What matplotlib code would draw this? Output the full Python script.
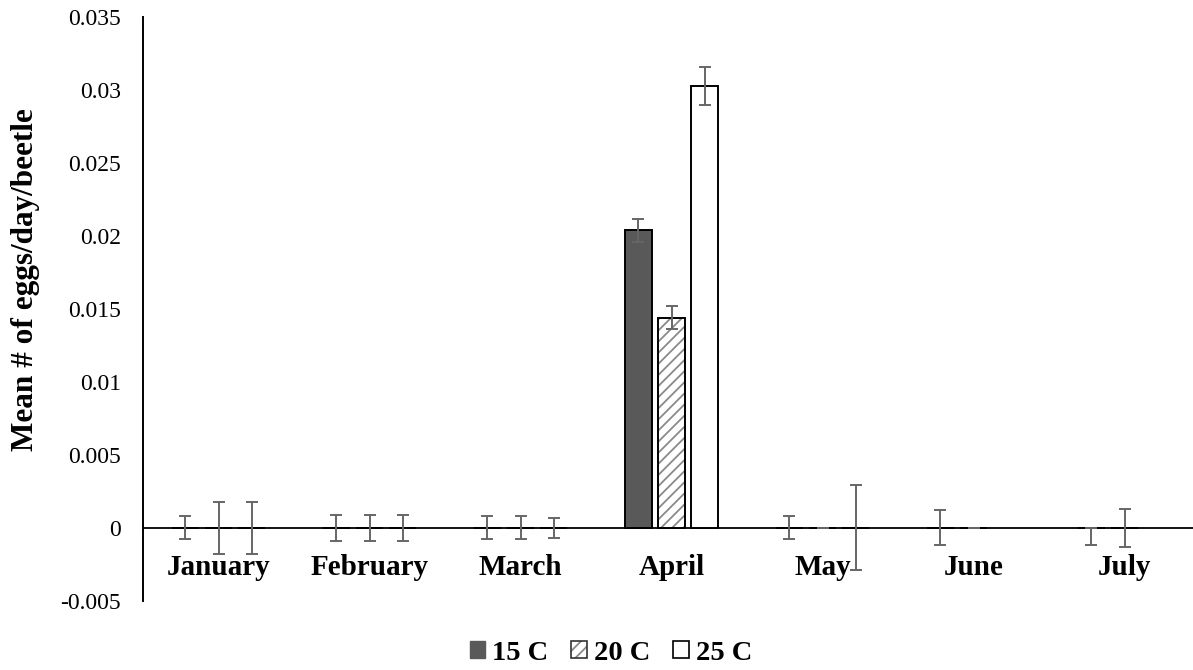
import numpy as np
import matplotlib
matplotlib.use("Agg")
import matplotlib.pyplot as plt
from matplotlib.patches import Patch

# Values
months = ["January", "February", "March", "April", "May", "June", "July"]
series = ["15 C", "20 C", "25 C"]

mean_15 = [0, 0, 0, 0.0204, 0, 0, 0]
mean_20 = [0, 0, 0, 0.0144, 0, 0, 0]
mean_25 = [0, 0, 0, 0.0303, 0, np.nan, np.nan]

err_15_up = [0.0008, 0.0009, 0.0008, 0.0008, 0.0008, 0.0012, 0.0]
err_15_down = [0.0008, 0.0009, 0.0008, 0.0008, 0.0008, 0.0012, 0.0012]
err_20 = [0.0018, 0.0009, 0.0008, 0.0008, 0.0, 0.0, 0.0013]
err_25 = [0.0018, 0.0009, 0.0007, 0.0013, 0.0029, np.nan, np.nan]

plt.rcParams['font.family'] = ['Liberation Serif', 'DejaVu Serif']
plt.rcParams['hatch.linewidth'] = 1.3

fig = plt.figure(figsize=(11.93, 6.70), dpi=100)
ax = fig.add_axes([0.1199, 0.1034, 0.886, 0.8708])

x = np.arange(len(months))
width = 0.177
offset = 0.22
edge_lw = 1.4
err_kw = dict(fmt='none', ecolor='#666666', elinewidth=1.4, capsize=4, capthick=1.4, zorder=4)

# 15 C - solid dark grey
ax.bar(x - offset, mean_15, width, color='#595959', edgecolor='black', linewidth=edge_lw, zorder=2)
# 20 C - grey diagonal hatch, black outline drawn on top
ax.bar(x, mean_20, width, color='white', edgecolor='#8a8a8a', hatch='///', linewidth=0, zorder=2)
ax.bar(x, mean_20, width, color='none', edgecolor='black', linewidth=edge_lw, zorder=3)
# 25 C - white
ax.bar(x + offset, mean_25, width, color='white', edgecolor='black', linewidth=edge_lw, zorder=2)

ax.errorbar(x - offset, mean_15, yerr=[err_15_down, err_15_up], **err_kw)
ax.errorbar(x, mean_20, yerr=err_20, **err_kw)
ax.errorbar(x + offset, mean_25, yerr=err_25, **err_kw)

ax.set_xlim(-0.5, len(months) - 0.5)
ax.set_ylim(-0.005, 0.035)
ax.set_yticks(np.arange(-0.005, 0.0351, 0.005))
ax.set_yticklabels(["-0.005", "0", "0.005", "0.01", "0.015", "0.02", "0.025", "0.03", "0.035"])

for side in ['top', 'right']:
    ax.spines[side].set_visible(False)
ax.spines['left'].set_linewidth(1.4)
ax.spines['bottom'].set_position(('data', 0))
ax.spines['bottom'].set_linewidth(1.3)
ax.spines['bottom'].set_zorder(1)

ax.set_xticks(x)
ax.set_xticklabels(months, fontsize=21, fontweight='bold')
ax.tick_params(axis='x', length=0, pad=19)
ax.tick_params(axis='y', length=0, pad=16, labelsize=17)

fig.text(0.021, 1 - 280 / 670, "Mean # of eggs/day/beetle", rotation=90,
         fontsize=22.5, fontweight='bold', ha='center', va='center')

handles = [
    Patch(facecolor='#595959', edgecolor='#595959'),
    (Patch(facecolor='white', edgecolor='#8a8a8a', hatch='///', linewidth=0),
     Patch(facecolor='none', edgecolor='#333333', linewidth=1.2)),
    Patch(facecolor='white', edgecolor='black', linewidth=1.2),
]
fig.legend(handles, series, loc='center', bbox_to_anchor=(611 / 1193, 1 - 653 / 670),
           ncol=3, frameon=False, handlelength=0.55, handleheight=0.55,
           handletextpad=0.25, columnspacing=0.8,
           prop={'family': 'Liberation Serif', 'weight': 'bold', 'size': 20.5})

fig.savefig("out.png", dpi=100)
